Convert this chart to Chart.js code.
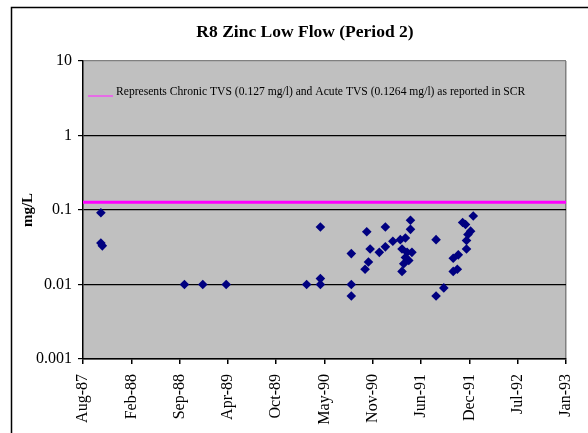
<!DOCTYPE html>
<html>
<head>
<meta charset="utf-8">
<script src="https://cdn.jsdelivr.net/npm/chart.js@4.4.1/dist/chart.umd.min.js"></script>
<style>
  html, body { margin: 0; padding: 0; background: #ffffff; }
  #wrap { width: 588px; height: 433px; }
</style>
</head>
<body>
<div id="wrap"><canvas id="zincChart" width="588" height="433"></canvas></div>
<script>
// sample dates and zinc concentrations (mg/L)
const sampleDates = [
  "1987-10-24", "1987-10-24", "1987-10-30",
  "1988-10-04", "1988-12-19", "1989-03-26",
  "1990-02-22", "1990-04-20", "1990-04-20", "1990-04-20",
  "1990-08-26", "1990-08-26", "1990-08-26",
  "1990-10-22", "1990-10-29", "1990-11-05", "1990-11-12",
  "1990-12-20", "1991-01-14", "1991-01-14",
  "1991-02-14", "1991-03-17", "1991-03-24", "1991-03-24", "1991-03-31",
  "1991-04-07", "1991-04-07", "1991-04-14", "1991-04-21", "1991-04-28", "1991-04-28", "1991-05-04",
  "1991-08-12", "1991-08-12", "1991-09-13",
  "1991-10-22", "1991-10-22", "1991-11-08", "1991-11-12", "1991-11-30",
  "1991-12-12", "1991-12-16", "1991-12-16", "1991-12-22", "1992-01-02", "1992-01-13"
];
const zincValues = [
  0.092, 0.036, 0.033,
  0.010, 0.010, 0.010,
  0.010, 0.059, 0.012, 0.010,
  0.026, 0.010, 0.007,
  0.016, 0.051, 0.020, 0.030,
  0.027, 0.059, 0.032,
  0.038, 0.040, 0.030, 0.015, 0.019,
  0.042, 0.023, 0.027, 0.021, 0.073, 0.055, 0.027,
  0.040, 0.007, 0.009,
  0.015, 0.0225, 0.016, 0.025, 0.068,
  0.064, 0.039, 0.030, 0.047, 0.052, 0.083
];

const chronicTVS = 0.127;

// axis: Excel-style day serials, one label every 200 days
const xTickSerials = [32000, 32200, 32400, 32600, 32800, 33000, 33200, 33400, 33600, 33800, 34000];
const xTickLabels = ["Aug-87", "Feb-88", "Sep-88", "Apr-89", "Oct-89", "May-90", "Nov-90", "Jun-91", "Dec-91", "Jul-92", "Jan-93"];
const yTickValues = [0.001, 0.01, 0.1, 1, 10];
const yTickLabels = ["0.001", "0.01", "0.1", "1", "10"];

const titleText = "R8 Zinc Low Flow (Period 2)";
const legendText = "Represents Chronic TVS (0.127 mg/l) and Acute TVS (0.1264 mg/l) as reported in SCR";

function toSerial(s) {
  const p = s.split("-").map(Number);
  return (Date.UTC(p[0], p[1] - 1, p[2]) - Date.UTC(1899, 11, 30)) / 86400000;
}

const FONT = "'Liberation Serif', 'Times New Roman', serif";

const decorPlugin = {
  id: "decor",
  beforeDraw(chart) {
    const c = chart.ctx;
    const a = chart.chartArea;
    c.save();
    c.fillStyle = "#ffffff";
    c.fillRect(0, 0, chart.width, chart.height);
    c.fillStyle = "#c0c0c0";
    c.fillRect(a.left, a.top, a.right - a.left, a.bottom - a.top);
    // outer frame (left and top only visible)
    c.strokeStyle = "#000000";
    c.lineWidth = 1.5;
    c.beginPath();
    c.moveTo(11.5, chart.height);
    c.lineTo(11.5, 7.5);
    c.lineTo(chart.width, 7.5);
    c.stroke();
    c.restore();
  },
  afterDraw(chart) {
    const c = chart.ctx;
    c.save();
    c.fillStyle = "#000000";
    c.font = "bold 17.5px " + FONT;
    c.textAlign = "center";
    c.textBaseline = "middle";
    c.fillText(titleText, 305, 32);
    // legend inside the plot area
    c.strokeStyle = "#ff33ff";
    c.lineWidth = 1.2;
    c.beginPath();
    c.moveTo(88, 96);
    c.lineTo(113, 96);
    c.stroke();
    c.font = "11.6px " + FONT;
    c.textAlign = "left";
    c.fillStyle = "#000000";
    c.fillText(legendText, 116, 92);
    c.restore();
  }
};

const xMin = xTickSerials[0];
const xMax = xTickSerials[xTickSerials.length - 1];

const data = {
  datasets: [
    {
      type: "scatter",
      label: "Zinc",
      data: sampleDates.map((d, i) => ({ x: toSerial(d), y: zincValues[i] })),
      backgroundColor: "#000080",
      borderColor: "#000080",
      pointStyle: "rectRot",
      pointRadius: 4.8,
      pointHoverRadius: 4.8,
      borderWidth: 0,
      order: 2
    },
    {
      type: "line",
      label: "TVS",
      data: [{ x: xMin, y: chronicTVS }, { x: xMax, y: chronicTVS }],
      borderColor: "#ff00ff",
      borderWidth: 3,
      pointRadius: 0,
      fill: false,
      order: 1
    }
  ]
};

const config = {
  type: "scatter",
  data: data,
  options: {
    responsive: false,
    animation: false,
    events: [],
    layout: { padding: { top: 61, right: 22, left: 0, bottom: 0 } },
    plugins: {
      legend: { display: false },
      tooltip: { enabled: false },
      title: { display: false }
    },
    scales: {
      x: {
        type: "linear",
        min: xMin,
        max: xMax,
        afterFit: (s) => { s.height = 74; s.paddingLeft = 0; s.paddingRight = 0; },
        afterBuildTicks: (s) => { s.ticks = xTickSerials.map((v) => ({ value: v })); },
        ticks: {
          minRotation: 90,
          maxRotation: 90,
          autoSkip: false,
          padding: 10,
          color: "#000000",
          font: { family: FONT, size: 16 },
          callback: (v) => xTickLabels[xTickSerials.indexOf(v)]
        },
        grid: {
          drawOnChartArea: true,
          color: (ctx) => (ctx.index === xTickSerials.length - 1 ? "#808080" : "rgba(0,0,0,0)"),
          tickColor: "#000000",
          tickLength: 5,
          lineWidth: 1.5
        },
        border: { color: "#000000", width: 1.5 }
      },
      y: {
        type: "logarithmic",
        min: 0.001,
        max: 10,
        afterFit: (s) => { s.width = 83; },
        afterBuildTicks: (s) => { s.ticks = yTickValues.map((v) => ({ value: v })); },
        ticks: {
          padding: 6,
          color: "#000000",
          font: { family: FONT, size: 16 },
          callback: (v) => yTickLabels[yTickValues.indexOf(v)]
        },
        grid: {
          color: (ctx) => (ctx.tick && ctx.tick.value === 10 ? "#808080" : "#000000"),
          tickColor: "#000000",
          tickLength: 5,
          lineWidth: 1.2
        },
        border: { color: "#000000", width: 1.5 },
        title: {
          display: true,
          text: "mg/L",
          color: "#000000",
          font: { family: FONT, size: 15, weight: "bold" },
          padding: { top: 19, bottom: 0 }
        }
      }
    }
  },
  plugins: [decorPlugin]
};

const zincChart = new Chart(document.getElementById("zincChart").getContext("2d"), config);
</script>
</body>
</html>
